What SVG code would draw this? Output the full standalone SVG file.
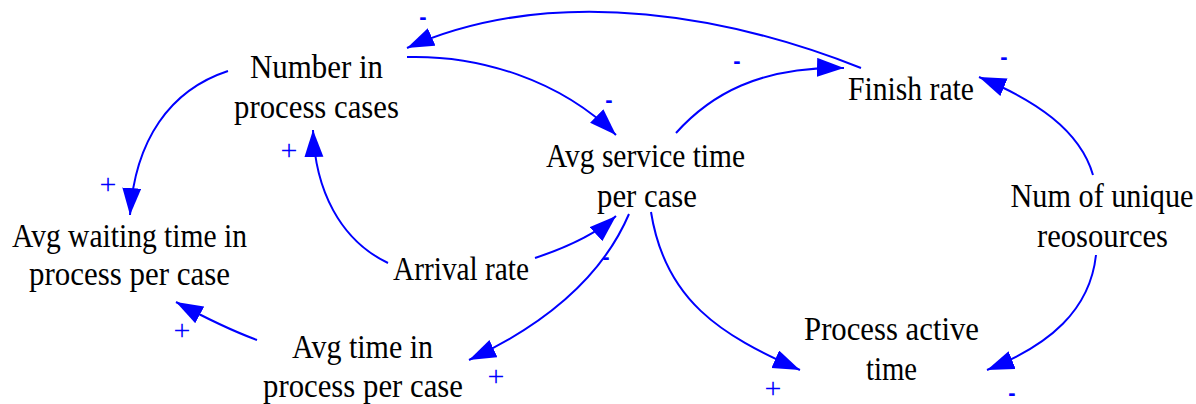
<svg xmlns="http://www.w3.org/2000/svg" width="1196" height="404" viewBox="0 0 1196 404">
<defs>
<style>
.n{font-family:'Liberation Serif','DejaVu Serif',serif;font-size:34px;fill:#000;text-anchor:middle}
.e{fill:none;stroke:#0000ff;stroke-width:2;marker-end:url(#ah)}
.p{font-family:'Liberation Serif','DejaVu Serif',serif;font-size:30px;fill:#0000ff;text-anchor:middle}
.m{font-family:'Liberation Sans',Arial,sans-serif;font-weight:bold;font-size:22px;fill:#0000ff;text-anchor:middle}
</style>
<marker id="ah" markerUnits="userSpaceOnUse" markerWidth="30" markerHeight="20" refX="27" refY="9.5" orient="auto" viewBox="0 0 30 20">
<path d="M0,0 L27,9.5 L0,19 z" fill="#0000ff"/>
</marker>
</defs>
<rect width="1196" height="404" fill="#fff"/>
<g id="connectors">
<path class="e" d="M861,68 C740,20 560,-20 407,48"/>
<path class="e" d="M407,57 C480,55 560,80 616,135"/>
<path class="e" d="M676,133 C710,95 760,66 844,68"/>
<path class="e" d="M1093,175 C1080,130 1035,100 979,77"/>
<path class="e" d="M1096,255 C1090,310 1050,345 987,370"/>
<path class="e" d="M651,212 C665,300 720,335 800,370"/>
<path class="e" d="M388,263 C340,240 315,190 313,130"/>
<path class="e" d="M228,71 C170,90 135,140 130,215"/>
<path class="e" d="M535,258 C565,248 595,235 616,216"/>
<path class="e" d="M629,214 C605,270 555,320 469,360"/>
<path class="e" d="M257,340 C230,330 200,315 176,302"/>
</g>
<g id="signs">
<text class="m" x="423" y="24">-</text>
<text class="m" x="737" y="68">-</text>
<text class="m" x="609" y="107">-</text>
<text class="m" x="1004" y="64">-</text>
<text class="m" x="606" y="264">-</text>
<text class="m" x="1012" y="400">-</text>
<text class="p" x="108" y="194">+</text>
<text class="p" x="289" y="160">+</text>
<text class="p" x="182" y="340">+</text>
<text class="p" x="496" y="386">+</text>
<text class="p" x="773" y="398">+</text>
</g>
<g id="number-in-process">
<text class="n" transform="translate(316.5,78) scale(0.9,1)" textLength="147.8" lengthAdjust="spacingAndGlyphs">Number in</text>
<text class="n" transform="translate(316.5,118) scale(0.9,1)" textLength="183.3" lengthAdjust="spacingAndGlyphs">process cases</text>
</g>
<g id="avg-service-time">
<text class="n" transform="translate(645.5,167) scale(0.9,1)" textLength="221.1" lengthAdjust="spacingAndGlyphs">Avg service time</text>
<text class="n" transform="translate(647,207) scale(0.9,1)" textLength="111.1" lengthAdjust="spacingAndGlyphs">per case</text>
</g>
<g id="finish-rate">
<text class="n" transform="translate(911,100) scale(0.9,1)" textLength="140" lengthAdjust="spacingAndGlyphs">Finish rate</text>
</g>
<g id="num-unique-resources">
<text class="n" transform="translate(1102,207) scale(0.9,1)" textLength="203.3" lengthAdjust="spacingAndGlyphs">Num of unique</text>
<text class="n" transform="translate(1102.5,247) scale(0.9,1)" textLength="145.6" lengthAdjust="spacingAndGlyphs">reosources</text>
</g>
<g id="avg-waiting-time">
<text class="n" transform="translate(129.5,247) scale(0.9,1)" textLength="261.1" lengthAdjust="spacingAndGlyphs">Avg waiting time in</text>
<text class="n" transform="translate(129.5,285) scale(0.9,1)" textLength="223.3" lengthAdjust="spacingAndGlyphs">process per case</text>
</g>
<g id="arrival-rate">
<text class="n" transform="translate(461,280) scale(0.9,1)" textLength="151.1" lengthAdjust="spacingAndGlyphs">Arrival rate</text>
</g>
<g id="avg-time-in-process">
<text class="n" transform="translate(362.5,358) scale(0.9,1)" textLength="156.7" lengthAdjust="spacingAndGlyphs">Avg time in</text>
<text class="n" transform="translate(363,397) scale(0.9,1)" textLength="222.2" lengthAdjust="spacingAndGlyphs">process per case</text>
</g>
<g id="process-active-time">
<text class="n" transform="translate(891.5,340) scale(0.9,1)" textLength="194.4" lengthAdjust="spacingAndGlyphs">Process active</text>
<text class="n" transform="translate(891.5,380) scale(0.9,1)" textLength="56.7" lengthAdjust="spacingAndGlyphs">time</text>
</g>
</svg>
